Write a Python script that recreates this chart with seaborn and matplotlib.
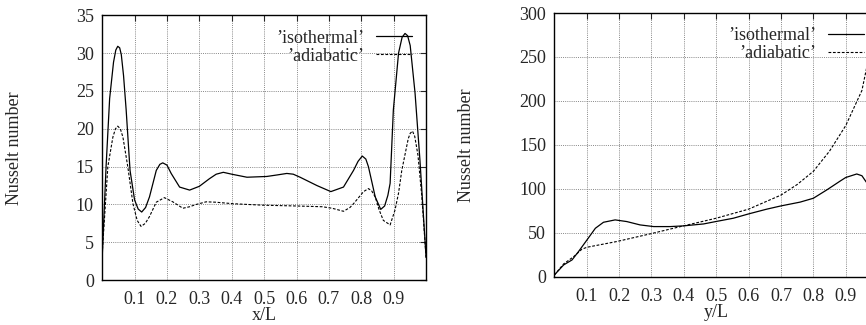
import numpy as np
import pandas as pd
import matplotlib
matplotlib.use("Agg")
import matplotlib.pyplot as plt
import seaborn as sns

# Nusselt number along x/L (left panel)
x_iso = [0.0, 0.012, 0.023, 0.035, 0.042, 0.048, 0.054, 0.059, 0.066, 0.074, 0.086,
         0.1, 0.111, 0.122, 0.134, 0.146, 0.167, 0.178, 0.187, 0.2, 0.213, 0.239,
         0.27, 0.30, 0.331, 0.352, 0.374, 0.40, 0.447, 0.508, 0.54, 0.57, 0.59,
         0.611, 0.663, 0.706, 0.745, 0.776, 0.79, 0.803, 0.814, 0.822, 0.843,
         0.860, 0.872, 0.882, 0.889, 0.899, 0.915, 0.926, 0.935, 0.943, 0.951,
         0.966, 0.981, 1.0]
nu_x_iso = [3.0, 15.0, 24.0, 28.8, 30.4, 30.9, 30.7, 29.8, 27.0, 22.5, 14.5,
            10.6, 9.4, 9.0, 9.6, 11.0, 14.5, 15.3, 15.5, 15.2, 14.1, 12.3,
            11.9, 12.4, 13.4, 14.0, 14.25, 14.0, 13.6, 13.7, 13.9, 14.1, 14.0,
            13.6, 12.5, 11.7, 12.3, 14.5, 15.7, 16.4, 16.0, 15.0, 11.0,
            9.35, 9.8, 11.2, 12.8, 22.5, 30.0, 32.1, 32.6, 32.3, 31.0,
            24.7, 15.9, 3.0]

x_adi = [0.0, 0.0175, 0.033, 0.041, 0.048, 0.056, 0.064, 0.079, 0.095, 0.108, 0.12,
         0.133, 0.146, 0.167, 0.192, 0.218, 0.249, 0.27, 0.29, 0.321, 0.35, 0.405,
         0.45, 0.5, 0.55, 0.6, 0.68, 0.71, 0.745, 0.765, 0.776, 0.807, 0.822,
         0.832, 0.843, 0.855, 0.868, 0.889, 0.904, 0.915, 0.925, 0.945, 0.951,
         0.958, 0.965, 0.975, 0.987, 1.0]
nu_x_adi = [3.5, 15.0, 18.9, 20.0, 20.35, 20.0, 18.9, 15.0, 10.1, 7.9, 7.1,
            7.5, 8.4, 10.3, 10.9, 10.35, 9.5, 9.7, 10.0, 10.35, 10.3, 10.1,
            10.0, 9.9, 9.85, 9.8, 9.7, 9.5, 9.1, 9.6, 10.1, 11.7, 12.1,
            11.8, 11.0, 9.3, 7.9, 7.3, 9.25, 11.5, 14.5, 18.7, 19.4,
            19.7, 19.0, 16.5, 11.0, 3.0]

# Nusselt number along y/L (right panel)
y_iso = [0.0, 0.029, 0.055, 0.075, 0.101, 0.127, 0.152, 0.188, 0.224, 0.265, 0.307,
         0.358, 0.399, 0.461, 0.5, 0.553, 0.6, 0.656, 0.7, 0.759, 0.8, 0.842,
         0.883, 0.9, 0.934, 0.95, 0.963, 1.0]
nu_y_iso = [2.0, 13.6, 19.3, 28.8, 42.0, 55.3, 62.1, 64.8, 62.9, 59.1, 57.2,
            57.2, 58.0, 60.2, 63.0, 66.7, 71.6, 77.0, 80.7, 85.0, 89.4, 99.0,
            109.0, 113.0, 117.0, 115.0, 108.0, 95.0]

y_adi = [0.0, 0.029, 0.06, 0.085, 0.101, 0.193, 0.296, 0.399, 0.5, 0.6, 0.7,
         0.75, 0.8, 0.85, 0.9, 0.95, 0.963, 1.0]
nu_y_adi = [2.0, 14.8, 23.0, 31.4, 33.7, 40.2, 48.9, 58.0, 66.7, 77.0, 93.0,
            105.0, 120.0, 143.0, 172.0, 212.0, 235.0, 300.0]

xticks = [0.1, 0.2, 0.3, 0.4, 0.5, 0.6, 0.7, 0.8, 0.9]
labels = ["\u2019isothermal\u2019", "\u2019adiabatic\u2019"]
FS = 13

sns.set_style("white")
plt.rcParams["font.family"] = ["Liberation Serif", "DejaVu Serif"]
plt.rcParams["font.size"] = FS

fig = plt.figure(figsize=(8.66, 3.25), dpi=100)
ax1 = fig.add_axes([0.118, 0.138, 0.374, 0.815])
ax2 = fig.add_axes([0.640, 0.148, 0.374, 0.812])


def draw(ax, xa, ya, xb, yb, xlabel, ymax, ystep):
    sns.lineplot(x=xa, y=ya, ax=ax, color="black", lw=0.9, label=labels[0],
                 sort=False, estimator=None)
    sns.lineplot(x=xb, y=yb, ax=ax, color="black", lw=0.8, label=labels[1],
                 sort=False, estimator=None)
    ax.lines[1].set_dashes((2.5, 1.5))
    ax.set_xlim(0, 1)
    ax.set_ylim(0, ymax)
    ax.set_xticks(xticks)
    ax.set_yticks(np.arange(0, ymax + 1, ystep))
    ax.grid(True, color="#888888", linestyle=(0, (1, 1.2)), linewidth=0.7)
    ax.tick_params(direction="in", top=True, right=True, length=4,
                   width=0.8, labelsize=FS, pad=6)
    ax.tick_params(axis="x", pad=8)
    for s in ax.spines.values():
        s.set_color("black")
        s.set_linewidth(1.0)
    ax.set_xlabel(xlabel, fontsize=FS, labelpad=-1)
    ax.set_ylabel("Nusselt number", fontsize=FS)
    ax.yaxis.set_label_coords(-0.245, 0.5)
    ax.legend(loc="upper right", frameon=False, markerfirst=False,
              handlelength=2.0, handletextpad=0.6, labelspacing=0.05,
              borderpad=0.3, borderaxespad=0.5, fontsize=FS)


draw(ax1, x_iso, nu_x_iso, x_adi, nu_x_adi, "x/L", 35, 5)
draw(ax2, y_iso, nu_y_iso, y_adi, nu_y_adi, "y/L", 300, 50)

fig.savefig("out.png", dpi=100)
